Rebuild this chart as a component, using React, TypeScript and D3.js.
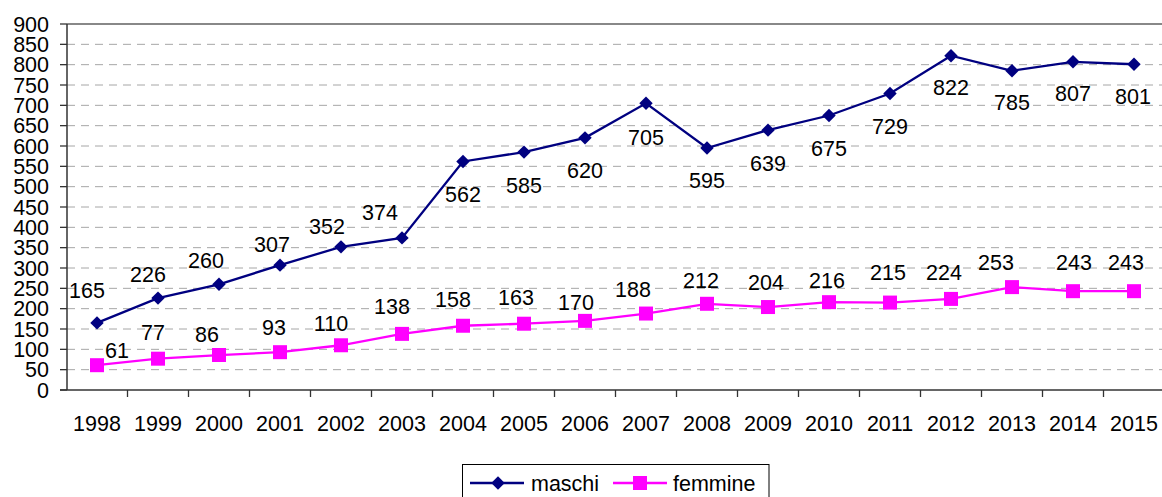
import React from 'react';
import * as d3 from 'd3';

const years = ['1998', '1999', '2000', '2001', '2002', '2003', '2004', '2005', '2006', '2007', '2008', '2009', '2010', '2011', '2012', '2013', '2014', '2015'];
const maschi = [165, 226, 260, 307, 352, 374, 562, 585, 620, 705, 595, 639, 675, 729, 822, 785, 807, 801];
const femmine = [61, 77, 86, 93, 110, 138, 158, 163, 170, 188, 212, 204, 216, 215, 224, 253, 243, 243];
const yTicks = d3.range(0, 901, 50);

// hand placement of the value labels, relative to each point (as in the source chart)
const maschiNudge: [number, number][] = [
  [-10, -32], [-10, -24], [-13, -24], [-8, -21], [-14, -20], [-22, -25],
  [0, 33], [0, 33], [0, 33], [0, 34], [0, 32], [0, 33], [0, 33], [0, 33], [0, 32], [0, 32], [0, 32], [-1, 32],
];
const femmineNudge: [number, number][] = [
  [20, -15], [-5, -26], [-12, -21], [-6, -25], [-10, -22], [-10, -27],
  [-10, -26], [-8, -26], [-9, -18], [-13, -24], [-6, -23], [-2, -25], [-2, -22], [-2, -30], [-7, -26], [-16, -25], [1, -29], [-8, -29],
];

const W = 1162, H = 497;
const font = '"Liberation Sans", Arial, sans-serif';
const fs = 21.5;

export default function App() {
  const x = d3.scaleBand().domain(years).range([66.5, 66.5 + 18 * 61]).padding(0);
  const y = d3.scaleLinear().domain([0, 900]).range([390, 24]);
  const cx = (yr: string) => (x(yr) as number) + x.bandwidth() / 2;

  const line = d3.line<number>().x((_, i) => cx(years[i])).y((v) => y(v));
  const diamond = d3.symbol().type(d3.symbolDiamond2).size(115)();
  const square = d3.symbol().type(d3.symbolSquare).size(196)();

  return (
    <svg width={W} height={H} style={{ position: 'absolute', left: 0, top: 0, fontFamily: font }}>
      <rect width={W} height={H} fill="#fff" />
      {yTicks.map((t) => (
        <g key={t}>
          {t > 0 && t < 900 && (
            <line x1={67} x2={W} y1={y(t)} y2={y(t)} stroke="#a6a6a6" strokeWidth={1} strokeDasharray="8,6" />
          )}
          <line x1={60} x2={67} y1={y(t)} y2={y(t)} stroke="#333" strokeWidth={1.3} />
          <text x={49} y={y(t)} dy="0.35em" textAnchor="end" fontSize={fs} fill="#000">{t}</text>
        </g>
      ))}
      <line x1={67} x2={W} y1={y(900)} y2={y(900)} stroke="#888" strokeWidth={2} />
      <line x1={67} x2={67} y1={y(900)} y2={y(0)} stroke="#333" strokeWidth={1.5} />
      <line x1={60} x2={W} y1={y(0)} y2={y(0)} stroke="#333" strokeWidth={1.5} />
      {years.map((yr, i) => (
        <g key={yr}>
          {i > 0 && <line x1={x(yr)} x2={x(yr)} y1={390} y2={397} stroke="#333" strokeWidth={1.3} />}
          <text x={cx(yr)} y={423} dy="0.35em" textAnchor="middle" fontSize={fs}>{yr}</text>
        </g>
      ))}
      <path d={line(maschi) ?? ''} fill="none" stroke="#000080" strokeWidth={2.3} />
      <path d={line(femmine) ?? ''} fill="none" stroke="#ff00ff" strokeWidth={2.3} />
      {maschi.map((v, i) => (
        <path key={'m' + i} d={diamond ?? ''} transform={`translate(${cx(years[i])},${y(v)})`} fill="#000080" />
      ))}
      {femmine.map((v, i) => (
        <path key={'f' + i} d={square ?? ''} transform={`translate(${cx(years[i])},${y(v)})`} fill="#ff00ff" />
      ))}
      {maschi.map((v, i) => (
        <text key={'ml' + i} x={cx(years[i]) + maschiNudge[i][0]} y={y(v) + maschiNudge[i][1]} dy="0.35em" textAnchor="middle" fontSize={fs}>{v}</text>
      ))}
      {femmine.map((v, i) => (
        <text key={'fl' + i} x={cx(years[i]) + femmineNudge[i][0]} y={y(v) + femmineNudge[i][1]} dy="0.35em" textAnchor="middle" fontSize={fs}>{v}</text>
      ))}
      <g>
        <rect x={462.5} y={464.5} width={306.5} height={40} fill="#fff" stroke="#000" strokeWidth={1} />
        <line x1={470} x2={524} y1={483} y2={483} stroke="#000080" strokeWidth={2.3} />
        <path d={diamond ?? ''} transform="translate(498,483)" fill="#000080" />
        <text x={531} y={483} dy="0.35em" fontSize={fs}>maschi</text>
        <line x1={613} x2={667} y1={483} y2={483} stroke="#ff00ff" strokeWidth={2.3} />
        <path d={square ?? ''} transform="translate(640,483)" fill="#ff00ff" />
        <text x={673} y={483} dy="0.35em" fontSize={fs}>femmine</text>
      </g>
    </svg>
  );
}
